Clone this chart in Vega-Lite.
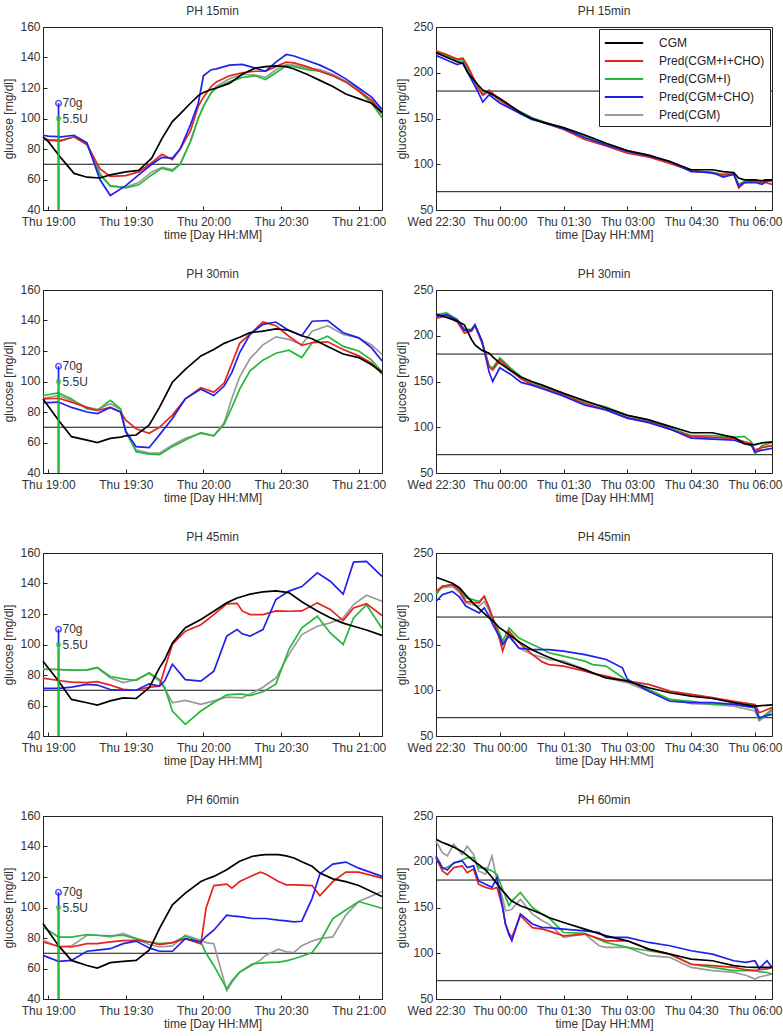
{
"$schema": "https://vega.github.io/schema/vega-lite/v6.json",
"padding": {"left": 2, "top": 4, "right": 2, "bottom": 2},
"config": {
  "font": "Liberation Sans",
  "view": {"stroke": "#222", "strokeWidth": 1},
  "axis": {"grid": false, "labelFontSize": 12, "titleFontSize": 12, "titleFontWeight": "normal", "labelColor": "#333", "titleColor": "#333", "domainColor": "#222", "tickColor": "#222", "tickSize": -4, "labelPadding": 7, "labelFlush": false, "labelOverlap": false, "labelBound": false, "titlePadding": 4, "labelSeparation": 0},
  "axisX": {"labelPadding": 10, "titlePadding": 2},
  "axisY": {"labelOverlap": false, "labelOffset": -1},
  "axisQuantitative": {"labelOverlap": false},
  "title": {"fontSize": 12, "fontWeight": "normal", "color": "#333", "offset": 2},
  "concat": {"spacing": 8}
},
"spacing": 26,
"resolve": {"legend": {"color": "independent"}, "scale": {"color": "independent"}},
"datasets": {
"L15": [
{"t":"2015-01-01 18:58","C":88,"R":87,"G":86.5,"B":89,"Y":87},
{"t":"2015-01-01 19:00","C":85,"R":86,"G":85.5,"B":88.5,"Y":86},
{"t":"2015-01-01 19:05","C":74,"R":85.5,"G":85.5,"B":88,"Y":85.5},
{"t":"2015-01-01 19:10","C":64,"R":88,"G":88,"B":89,"Y":88},
{"t":"2015-01-01 19:15","C":61.5,"R":83,"G":83,"B":84,"Y":83},
{"t":"2015-01-01 19:20","C":61,"R":67,"G":63,"B":60,"Y":64},
{"t":"2015-01-01 19:24","C":63,"R":62,"G":56,"B":49.5,"Y":55.5},
{"t":"2015-01-01 19:30","C":65,"R":62.5,"G":54.5,"B":56,"Y":55},
{"t":"2015-01-01 19:35","C":66,"R":65,"G":56.5,"B":63,"Y":58},
{"t":"2015-01-01 19:40","C":74,"R":71,"G":63,"B":70,"Y":65},
{"t":"2015-01-01 19:44","C":87,"R":76.5,"G":67.5,"B":74.5,"Y":68},
{"t":"2015-01-01 19:48","C":98,"R":73,"G":65.5,"B":74,"Y":66.5},
{"t":"2015-01-01 19:51","C":103,"R":80,"G":70,"B":80,"Y":70},
{"t":"2015-01-01 19:55","C":110,"R":92,"G":85,"B":96,"Y":85},
{"t":"2015-01-01 19:58","C":115,"R":108,"G":100,"B":110,"Y":100},
{"t":"2015-01-01 20:00","C":117,"R":114,"G":108,"B":128,"Y":108},
{"t":"2015-01-01 20:03","C":119,"R":121,"G":117,"B":132,"Y":117},
{"t":"2015-01-01 20:05","C":120,"R":124,"G":120,"B":132.5,"Y":121},
{"t":"2015-01-01 20:10","C":123,"R":128,"G":124,"B":135,"Y":126},
{"t":"2015-01-01 20:15","C":129,"R":130,"G":127,"B":135.5,"Y":129},
{"t":"2015-01-01 20:20","C":133,"R":131,"G":128,"B":133,"Y":128.5},
{"t":"2015-01-01 20:24","C":134,"R":131,"G":125.6,"B":131,"Y":127},
{"t":"2015-01-01 20:28","C":134.5,"R":134,"G":130,"B":137,"Y":132},
{"t":"2015-01-01 20:32","C":134,"R":137,"G":134.5,"B":142,"Y":135.5},
{"t":"2015-01-01 20:35","C":132.5,"R":136.5,"G":134,"B":141,"Y":135},
{"t":"2015-01-01 20:40","C":129,"R":134,"G":132,"B":138,"Y":133},
{"t":"2015-01-01 20:45","C":125,"R":131,"G":131,"B":135,"Y":132},
{"t":"2015-01-01 20:50","C":121,"R":128,"G":128,"B":131,"Y":129},
{"t":"2015-01-01 20:55","C":116,"R":124,"G":124,"B":126,"Y":124.5},
{"t":"2015-01-01 21:00","C":113,"R":118,"G":118,"B":120,"Y":119},
{"t":"2015-01-01 21:05","C":110,"R":112,"G":110,"B":114,"Y":111},
{"t":"2015-01-01 21:09","C":104,"R":104,"G":100.5,"B":106,"Y":102.5}
],
"L30": [
{"t":"2015-01-01 18:58","C":88.6,"R":88.6,"G":90.8,"B":86,"Y":89},
{"t":"2015-01-01 19:04","C":74.6,"R":89,"G":92.5,"B":86.5,"Y":90.8},
{"t":"2015-01-01 19:09","C":63.8,"R":86.5,"G":88.6,"B":83,"Y":87.6},
{"t":"2015-01-01 19:15","C":61.6,"R":83,"G":82,"B":80,"Y":83},
{"t":"2015-01-01 19:19","C":60,"R":81,"G":81,"B":79,"Y":81.7},
{"t":"2015-01-01 19:24","C":62.7,"R":83,"G":87.6,"B":83,"Y":85.4},
{"t":"2015-01-01 19:28","C":63.5,"R":80,"G":82,"B":80,"Y":81.7},
{"t":"2015-01-01 19:30","C":64.4,"R":74.6,"G":67,"B":67,"Y":68},
{"t":"2015-01-01 19:34","C":64.9,"R":69,"G":54,"B":57.3,"Y":55},
{"t":"2015-01-01 19:39","C":71.4,"R":66,"G":52.4,"B":56.6,"Y":53},
{"t":"2015-01-01 19:43","C":83,"R":70,"G":52,"B":65,"Y":53},
{"t":"2015-01-01 19:48","C":99.5,"R":78,"G":57.3,"B":75.7,"Y":58.4},
{"t":"2015-01-01 19:53","C":108,"R":88.6,"G":61.6,"B":88.6,"Y":62.7},
{"t":"2015-01-01 19:59","C":116.8,"R":96,"G":66.5,"B":95,"Y":66},
{"t":"2015-01-01 20:04","C":121,"R":93,"G":64.4,"B":90.8,"Y":64.4},
{"t":"2015-01-01 20:08","C":125,"R":99,"G":72,"B":97,"Y":73},
{"t":"2015-01-01 20:11","C":127,"R":112,"G":83,"B":106,"Y":89},
{"t":"2015-01-01 20:14","C":129,"R":125,"G":95,"B":119,"Y":103},
{"t":"2015-01-01 20:18","C":132,"R":131,"G":107,"B":131,"Y":115},
{"t":"2015-01-01 20:23","C":133,"R":139,"G":114,"B":137.5,"Y":124},
{"t":"2015-01-01 20:28","C":134.5,"R":136.6,"G":118.5,"B":139,"Y":129.3},
{"t":"2015-01-01 20:33","C":133.6,"R":129.7,"G":120.5,"B":133.5,"Y":127.6},
{"t":"2015-01-01 20:38","C":130,"R":123.7,"G":115.7,"B":130,"Y":124.3},
{"t":"2015-01-01 20:42","C":128,"R":125.4,"G":125.4,"B":139.5,"Y":133},
{"t":"2015-01-01 20:48","C":123,"R":126,"G":129.7,"B":140,"Y":136.6},
{"t":"2015-01-01 20:54","C":118,"R":121,"G":123,"B":132,"Y":130.8},
{"t":"2015-01-01 21:00","C":115.7,"R":116.8,"G":120,"B":128.6,"Y":128.6},
{"t":"2015-01-01 21:05","C":111,"R":112,"G":114,"B":122,"Y":124},
{"t":"2015-01-01 21:09","C":106,"R":105,"G":106.4,"B":113.5,"Y":117.8}
],
"L45": [
{"t":"2015-01-01 18:58","C":89,"R":78,"G":83.6,"B":71.2,"Y":84},
{"t":"2015-01-01 19:04","C":76,"R":76.4,"G":83.6,"B":71.2,"Y":83.6},
{"t":"2015-01-01 19:09","C":64,"R":75.3,"G":83.2,"B":72,"Y":83},
{"t":"2015-01-01 19:15","C":61.8,"R":75,"G":83.4,"B":73.8,"Y":83.2},
{"t":"2015-01-01 19:19","C":60.3,"R":75.6,"G":85,"B":73.4,"Y":84.7},
{"t":"2015-01-01 19:24","C":63,"R":73.4,"G":79,"B":70.5,"Y":78},
{"t":"2015-01-01 19:29","C":65,"R":70.6,"G":77.5,"B":70,"Y":75},
{"t":"2015-01-01 19:34","C":64.6,"R":70,"G":76.4,"B":70,"Y":77},
{"t":"2015-01-01 19:39","C":71.6,"R":72,"G":81.5,"B":74.2,"Y":81},
{"t":"2015-01-01 19:43","C":84.7,"R":72.7,"G":77,"B":72.7,"Y":76},
{"t":"2015-01-01 19:45","C":90,"R":84,"G":72,"B":76,"Y":71},
{"t":"2015-01-01 19:48","C":101,"R":100,"G":56.4,"B":87,"Y":61.8},
{"t":"2015-01-01 19:53","C":111,"R":108.7,"G":47.6,"B":77,"Y":63.3},
{"t":"2015-01-01 19:59","C":116.4,"R":113,"G":56.4,"B":76,"Y":60.7},
{"t":"2015-01-01 20:04","C":121.8,"R":119.6,"G":62,"B":82.5,"Y":63},
{"t":"2015-01-01 20:09","C":127.3,"R":126.6,"G":67,"B":105.5,"Y":65.5},
{"t":"2015-01-01 20:13","C":130.5,"R":127,"G":67.5,"B":109.8,"Y":65.2},
{"t":"2015-01-01 20:15","C":131.5,"R":122,"G":67.5,"B":107,"Y":65},
{"t":"2015-01-01 20:18","C":133,"R":119.6,"G":66.5,"B":105.5,"Y":67.5},
{"t":"2015-01-01 20:23","C":134.5,"R":119.6,"G":69,"B":109.8,"Y":72},
{"t":"2015-01-01 20:28","C":135.2,"R":122,"G":74,"B":129.5,"Y":78},
{"t":"2015-01-01 20:33","C":134,"R":121.8,"G":96.7,"B":135,"Y":93.4},
{"t":"2015-01-01 20:38","C":128,"R":122,"G":111,"B":138,"Y":106.5},
{"t":"2015-01-01 20:44","C":122,"R":127.3,"G":118.5,"B":147,"Y":112},
{"t":"2015-01-01 20:49","C":117.5,"R":123,"G":107.6,"B":141.5,"Y":114.2},
{"t":"2015-01-01 20:54","C":114,"R":115.7,"G":100,"B":133,"Y":117.4},
{"t":"2015-01-01 20:58","C":112,"R":124,"G":117.4,"B":154,"Y":126.2},
{"t":"2015-01-01 21:03","C":109.5,"R":126.8,"G":126,"B":154.5,"Y":132.3},
{"t":"2015-01-01 21:09","C":106,"R":119,"G":110.5,"B":144.7,"Y":128.4}
],
"L60": [
{"t":"2015-01-01 18:58","C":89.5,"R":77.4,"G":87.3,"B":68.6,"Y":78.5},
{"t":"2015-01-01 19:04","C":75,"R":74.6,"G":80.6,"B":64.7,"Y":74.1},
{"t":"2015-01-01 19:09","C":65.3,"R":74.1,"G":80.6,"B":65.3,"Y":74.8},
{"t":"2015-01-01 19:15","C":62,"R":76.3,"G":82.3,"B":71.3,"Y":81.8},
{"t":"2015-01-01 19:19","C":60.3,"R":76.3,"G":81.8,"B":72,"Y":81.8},
{"t":"2015-01-01 19:24","C":63.8,"R":77.4,"G":81.4,"B":73,"Y":80.7},
{"t":"2015-01-01 19:29","C":64.7,"R":78.3,"G":81.8,"B":76.3,"Y":83},
{"t":"2015-01-01 19:34","C":65.3,"R":78.5,"G":79.6,"B":78,"Y":79.6},
{"t":"2015-01-01 19:39","C":72,"R":77.4,"G":77.4,"B":73.5,"Y":75.7},
{"t":"2015-01-01 19:43","C":86.2,"R":75.7,"G":76.3,"B":71.3,"Y":74.1},
{"t":"2015-01-01 19:48","C":101.7,"R":77,"G":76.8,"B":71.3,"Y":74.8},
{"t":"2015-01-01 19:53","C":109.4,"R":79.6,"G":81.2,"B":79.6,"Y":81.8},
{"t":"2015-01-01 19:59","C":117,"R":76.1,"G":77.4,"B":77.4,"Y":78.5},
{"t":"2015-01-01 20:01","C":118.5,"R":99.5,"G":70,"B":81,"Y":77},
{"t":"2015-01-01 20:04","C":120.4,"R":114.4,"G":62,"B":85.1,"Y":76.3},
{"t":"2015-01-01 20:09","C":124.8,"R":115.3,"G":46.6,"B":95,"Y":45.5},
{"t":"2015-01-01 20:11","C":127,"R":112.7,"G":52,"B":94.5,"Y":51},
{"t":"2015-01-01 20:14","C":130.3,"R":117,"G":57.6,"B":94,"Y":57.6},
{"t":"2015-01-01 20:19","C":133.6,"R":121,"G":63.1,"B":92.8,"Y":62.5},
{"t":"2015-01-01 20:22","C":134.3,"R":123.2,"G":63.5,"B":92.8,"Y":65.5},
{"t":"2015-01-01 20:24","C":134.7,"R":122,"G":63.8,"B":92.8,"Y":68.6},
{"t":"2015-01-01 20:29","C":134.7,"R":117,"G":64.2,"B":91.7,"Y":72.6},
{"t":"2015-01-01 20:32","C":133.8,"R":114.9,"G":65,"B":91.2,"Y":71},
{"t":"2015-01-01 20:35","C":132.5,"R":114.9,"G":66.4,"B":90.6,"Y":70.5},
{"t":"2015-01-01 20:38","C":130,"R":114.7,"G":68,"B":91,"Y":75},
{"t":"2015-01-01 20:42","C":127,"R":114.4,"G":70.5,"B":106,"Y":78},
{"t":"2015-01-01 20:45","C":122.6,"R":107.8,"G":77.4,"B":122,"Y":79.6},
{"t":"2015-01-01 20:50","C":118.8,"R":117,"G":92.8,"B":128.5,"Y":80.7},
{"t":"2015-01-01 20:55","C":117,"R":123.2,"G":98.4,"B":129.8,"Y":95},
{"t":"2015-01-01 21:00","C":114.4,"R":123.2,"G":103.9,"B":125.8,"Y":103.9},
{"t":"2015-01-01 21:09","C":107.2,"R":119.3,"G":99.5,"B":120.4,"Y":110.5}
],
"R15": [
{"t":"2014-12-31 22:30","C":222,"R":224,"G":223,"B":219,"Y":222},
{"t":"2014-12-31 22:45","C":217,"R":220,"G":219,"B":214,"Y":218},
{"t":"2014-12-31 23:00","C":212,"R":215,"G":214,"B":209,"Y":212},
{"t":"2014-12-31 23:08","C":210,"R":216,"G":214,"B":211,"Y":213},
{"t":"2014-12-31 23:15","C":200,"R":207,"G":205,"B":200,"Y":203},
{"t":"2014-12-31 23:30","C":186,"R":183,"G":183,"B":178,"Y":182},
{"t":"2014-12-31 23:36","C":181,"R":176,"G":177,"B":168,"Y":175},
{"t":"2014-12-31 23:45","C":178,"R":181,"G":180,"B":176,"Y":179},
{"t":"2015-01-01 00:00","C":172,"R":170,"G":171,"B":167,"Y":170},
{"t":"2015-01-01 00:15","C":164,"R":163,"G":163,"B":161,"Y":162},
{"t":"2015-01-01 00:30","C":156,"R":156,"G":157,"B":155,"Y":155},
{"t":"2015-01-01 00:45","C":150,"R":150,"G":151,"B":149,"Y":150},
{"t":"2015-01-01 01:00","C":146,"R":146,"G":147,"B":146,"Y":146},
{"t":"2015-01-01 01:30","C":140,"R":138,"G":139,"B":139,"Y":139},
{"t":"2015-01-01 02:00","C":132,"R":127,"G":131,"B":129,"Y":130},
{"t":"2015-01-01 02:30","C":123,"R":120,"G":122,"B":121,"Y":122},
{"t":"2015-01-01 03:00","C":115,"R":112,"G":114,"B":114,"Y":114},
{"t":"2015-01-01 03:30","C":110,"R":108,"G":108,"B":109,"Y":108.5},
{"t":"2015-01-01 04:00","C":103,"R":101,"G":102,"B":103,"Y":102},
{"t":"2015-01-01 04:30","C":94,"R":93,"G":93,"B":92,"Y":93},
{"t":"2015-01-01 05:00","C":94,"R":90,"G":91,"B":91,"Y":91},
{"t":"2015-01-01 05:15","C":92,"R":88,"G":89,"B":86,"Y":89},
{"t":"2015-01-01 05:30","C":91,"R":90,"G":90,"B":89,"Y":90},
{"t":"2015-01-01 05:37","C":85,"R":74,"G":78,"B":76,"Y":78},
{"t":"2015-01-01 05:45","C":83,"R":80,"G":81,"B":80,"Y":81},
{"t":"2015-01-01 06:00","C":83,"R":82,"G":82,"B":80,"Y":82},
{"t":"2015-01-01 06:10","C":82,"R":80,"G":80,"B":78,"Y":80},
{"t":"2015-01-01 06:15","C":83,"R":80,"G":82,"B":81,"Y":82},
{"t":"2015-01-01 06:24","C":83,"R":78,"G":82,"B":83,"Y":81}
],
"R30": [
{"t":"2014-12-31 22:30","C":223.5,"R":219,"G":223,"B":221,"Y":222},
{"t":"2014-12-31 22:45","C":220,"R":222,"G":225,"B":223,"Y":224},
{"t":"2014-12-31 23:00","C":216,"R":215,"G":218,"B":217,"Y":217},
{"t":"2014-12-31 23:10","C":212,"R":203,"G":207,"B":206,"Y":205},
{"t":"2014-12-31 23:20","C":196,"R":205,"G":207,"B":206,"Y":206},
{"t":"2014-12-31 23:25","C":190,"R":211,"G":212,"B":212,"Y":211},
{"t":"2014-12-31 23:35","C":184,"R":192,"G":194,"B":194,"Y":193},
{"t":"2014-12-31 23:45","C":181,"R":166,"G":167,"B":160,"Y":166},
{"t":"2014-12-31 23:50","C":177,"R":163,"G":165,"B":150,"Y":162},
{"t":"2015-01-01 00:00","C":170,"R":174,"G":176,"B":165,"Y":172},
{"t":"2015-01-01 00:15","C":162,"R":163,"G":165,"B":158,"Y":162},
{"t":"2015-01-01 00:30","C":155,"R":153,"G":155,"B":149,"Y":153},
{"t":"2015-01-01 00:45","C":150,"R":147,"G":149,"B":146,"Y":147},
{"t":"2015-01-01 01:00","C":146,"R":143,"G":145,"B":142,"Y":143},
{"t":"2015-01-01 01:30","C":137,"R":135,"G":137,"B":134,"Y":135},
{"t":"2015-01-01 02:00","C":129,"R":126,"G":128,"B":124,"Y":126},
{"t":"2015-01-01 02:30","C":121,"R":119,"G":122,"B":119,"Y":119},
{"t":"2015-01-01 03:00","C":113,"R":110,"G":113,"B":110,"Y":111},
{"t":"2015-01-01 03:30","C":108,"R":106,"G":108,"B":105,"Y":106},
{"t":"2015-01-01 04:00","C":101,"R":98,"G":99,"B":98,"Y":98},
{"t":"2015-01-01 04:30","C":94,"R":90,"G":91,"B":88,"Y":89},
{"t":"2015-01-01 05:00","C":94,"R":89,"G":91,"B":87,"Y":89},
{"t":"2015-01-01 05:30","C":89,"R":88,"G":89,"B":86,"Y":88},
{"t":"2015-01-01 05:45","C":82,"R":84,"G":90,"B":82,"Y":84},
{"t":"2015-01-01 05:55","C":81,"R":82,"G":84,"B":80,"Y":82},
{"t":"2015-01-01 06:00","C":81,"R":75,"G":71,"B":73,"Y":72},
{"t":"2015-01-01 06:10","C":83,"R":78,"G":80,"B":75,"Y":78},
{"t":"2015-01-01 06:24","C":84,"R":80,"G":83,"B":77,"Y":80}
],
"R45": [
{"t":"2014-12-31 22:30","C":223.5,"R":208,"G":204.5,"B":197,"Y":208},
{"t":"2014-12-31 22:39","C":221,"R":213.6,"G":213.6,"B":204.5,"Y":212},
{"t":"2014-12-31 22:53","C":217,"R":215.5,"G":215.5,"B":208,"Y":213.6},
{"t":"2014-12-31 23:03","C":212,"R":209,"G":210,"B":202,"Y":207},
{"t":"2014-12-31 23:12","C":204,"R":197,"G":201,"B":192,"Y":195.5},
{"t":"2014-12-31 23:22","C":195.5,"R":196,"G":199,"B":188,"Y":193.5},
{"t":"2014-12-31 23:31","C":189,"R":195.5,"G":197,"B":184.5,"Y":192},
{"t":"2014-12-31 23:38","C":184,"R":202.7,"G":202.7,"B":190,"Y":197},
{"t":"2014-12-31 23:45","C":179,"R":190,"G":190,"B":181,"Y":187},
{"t":"2014-12-31 23:50","C":176,"R":179,"G":179,"B":172,"Y":177},
{"t":"2015-01-01 00:00","C":168,"R":155,"G":162,"B":158,"Y":160},
{"t":"2015-01-01 00:04","C":166,"R":142.7,"G":153.6,"B":150,"Y":152},
{"t":"2015-01-01 00:13","C":161,"R":164.5,"G":168,"B":159,"Y":161},
{"t":"2015-01-01 00:27","C":153,"R":152,"G":157,"B":146,"Y":146},
{"t":"2015-01-01 00:46","C":144,"R":139,"G":150,"B":144.5,"Y":139},
{"t":"2015-01-01 01:00","C":139,"R":131,"G":145,"B":144.5,"Y":136},
{"t":"2015-01-01 01:09","C":136,"R":128,"G":141,"B":144.5,"Y":133.6},
{"t":"2015-01-01 01:30","C":130,"R":126.4,"G":137.3,"B":142.7,"Y":131.8},
{"t":"2015-01-01 02:00","C":122.5,"R":120.9,"G":131.8,"B":139,"Y":122.5},
{"t":"2015-01-01 02:11","C":119,"R":118.5,"G":128,"B":137,"Y":119},
{"t":"2015-01-01 02:30","C":113.6,"R":115.5,"G":126.4,"B":133.6,"Y":113.6},
{"t":"2015-01-01 02:53","C":111,"R":111,"G":114,"B":124.5,"Y":109.5},
{"t":"2015-01-01 03:00","C":110,"R":110,"G":110,"B":112,"Y":108.2},
{"t":"2015-01-01 03:30","C":102.7,"R":106.4,"G":101,"B":99,"Y":99},
{"t":"2015-01-01 04:00","C":97.3,"R":99,"G":90,"B":88,"Y":90},
{"t":"2015-01-01 04:30","C":93.6,"R":95.5,"G":88,"B":86.4,"Y":85.3},
{"t":"2015-01-01 05:00","C":91,"R":92,"G":84.5,"B":86.4,"Y":84.5},
{"t":"2015-01-01 05:30","C":86.4,"R":88,"G":84.5,"B":84.5,"Y":82.7},
{"t":"2015-01-01 06:00","C":82.7,"R":84.5,"G":81,"B":81,"Y":77.3},
{"t":"2015-01-01 06:06","C":83,"R":75.5,"G":68,"B":70,"Y":66.4},
{"t":"2015-01-01 06:24","C":84,"R":81,"G":79,"B":73.6,"Y":77.3}
],
"R60": [
{"t":"2014-12-31 22:30","C":224.5,"R":204.5,"G":204.5,"B":206,"Y":222.7},
{"t":"2014-12-31 22:39","C":221,"R":190,"G":192,"B":193.6,"Y":210},
{"t":"2014-12-31 22:46","C":219,"R":186,"G":194,"B":191,"Y":206.4},
{"t":"2014-12-31 22:55","C":216,"R":193.6,"G":198,"B":199,"Y":219},
{"t":"2014-12-31 23:07","C":211,"R":195.5,"G":202,"B":201,"Y":208},
{"t":"2014-12-31 23:14","C":207,"R":188,"G":204.5,"B":193.6,"Y":217},
{"t":"2014-12-31 23:23","C":201,"R":192,"G":204.5,"B":195.5,"Y":208},
{"t":"2014-12-31 23:30","C":197,"R":175.5,"G":193.6,"B":179,"Y":190},
{"t":"2014-12-31 23:40","C":191,"R":172,"G":193,"B":175.5,"Y":186.4},
{"t":"2014-12-31 23:49","C":183,"R":170,"G":190,"B":172,"Y":206.4},
{"t":"2014-12-31 23:56","C":176,"R":172,"G":186.4,"B":182.7,"Y":179},
{"t":"2015-01-01 00:04","C":168,"R":150,"G":170,"B":150,"Y":160},
{"t":"2015-01-01 00:08","C":165,"R":132,"G":162,"B":132,"Y":146.4},
{"t":"2015-01-01 00:13","C":160,"R":122,"G":152,"B":120,"Y":147},
{"t":"2015-01-01 00:17","C":157,"R":117.3,"G":157,"B":113.6,"Y":148},
{"t":"2015-01-01 00:29","C":152,"R":141,"G":166.4,"B":143,"Y":159},
{"t":"2015-01-01 00:46","C":147,"R":128,"G":150,"B":132,"Y":142.7},
{"t":"2015-01-01 01:00","C":142.7,"R":126.4,"G":142.7,"B":128,"Y":135.5},
{"t":"2015-01-01 01:09","C":139,"R":124.5,"G":139,"B":128,"Y":132},
{"t":"2015-01-01 01:30","C":133.6,"R":119,"G":122.7,"B":126.4,"Y":117.3},
{"t":"2015-01-01 02:00","C":126.4,"R":121,"G":121.8,"B":124.5,"Y":121},
{"t":"2015-01-01 02:20","C":121.5,"R":116,"G":115,"B":122.7,"Y":108.2},
{"t":"2015-01-01 02:30","C":119,"R":113.6,"G":111.8,"B":117.3,"Y":106.4},
{"t":"2015-01-01 03:00","C":113.6,"R":113.6,"G":106.4,"B":117.3,"Y":106.4},
{"t":"2015-01-01 03:30","C":104.5,"R":104.5,"G":102.7,"B":111.8,"Y":97.3},
{"t":"2015-01-01 04:00","C":99,"R":99,"G":99,"B":108.2,"Y":95.5},
{"t":"2015-01-01 04:30","C":93.6,"R":88,"G":88,"B":102.7,"Y":84.5},
{"t":"2015-01-01 05:00","C":91.8,"R":86.4,"G":84.5,"B":99,"Y":81},
{"t":"2015-01-01 05:30","C":86.4,"R":84.5,"G":81,"B":91.8,"Y":79},
{"t":"2015-01-01 05:47","C":85,"R":82,"G":81,"B":90,"Y":76},
{"t":"2015-01-01 06:00","C":84.5,"R":81,"G":81,"B":91.8,"Y":71.8},
{"t":"2015-01-01 06:06","C":84.5,"R":82,"G":80,"B":83.3,"Y":74},
{"t":"2015-01-01 06:17","C":84.5,"R":83,"G":79,"B":91.8,"Y":76},
{"t":"2015-01-01 06:24","C":84.5,"R":84.5,"G":77.3,"B":84.5,"Y":77.3}
]
},
"vconcat": [
{"resolve": {"legend": {"color": "independent"}, "scale": {"color": "independent"}}, "hconcat": [
 {"title": "PH 15min", "width": 339, "height": 183, "layer": [
  {"data": {"values": [{"v": 70}]}, "mark": {"type": "rule", "color": "#111", "strokeWidth": 1}, "encoding": {"y": {"field": "v", "type": "quantitative", "scale": {"domain": [40, 160], "nice": false, "zero": false}, "axis": {"values": [40, 60, 80, 100, 120, 140, 160], "tickCount": 7, "labelOverlap": false, "title": "glucose [mg/dl]"}}}},
  {"data": {"name": "L15"}, "transform": [{"fold": ["Y", "G", "R", "B", "C"], "as": ["s", "v"]}], "mark": {"type": "line", "strokeWidth": 1.7}, "encoding": {
    "x": {"field": "t", "type": "temporal", "scale": {"domain": [{"year":2015,"month":1,"date":1,"hours":18,"minutes":58},{"year":2015,"month":1,"date":1,"hours":21,"minutes":9}]}, "axis": {"values": [{"year":2015,"month":1,"date":1,"hours":19},{"year":2015,"month":1,"date":1,"hours":19,"minutes":30},{"year":2015,"month":1,"date":1,"hours":20},{"year":2015,"month":1,"date":1,"hours":20,"minutes":30},{"year":2015,"month":1,"date":1,"hours":21}], "format": "%a %H:%M", "title": "time [Day HH:MM]"}},
    "y": {"field": "v", "type": "quantitative", "scale": {"domain": [40, 160], "nice": false, "zero": false}, "axis": {"values": [40, 60, 80, 100, 120, 140, 160], "tickCount": 7, "labelOverlap": false, "title": "glucose [mg/dl]"}},
    "color": {"field": "s", "type": "nominal", "scale": {"domain": ["C", "R", "G", "B", "Y"], "range": ["#000000", "#e8221e", "#26b83a", "#2020ee", "#9a9a9a"]}, "legend": null}}},
  {"data": {"values": [{"t": "2015-01-01 19:04", "lo": 40, "v": 110}]}, "mark": {"type": "rule", "color": "#2020ee", "strokeWidth": 1.7}, "encoding": {"x": {"field": "t", "type": "temporal"}, "y": {"field": "lo", "type": "quantitative"}, "y2": {"field": "v"}}},
  {"data": {"values": [{"t": "2015-01-01 19:04", "lo": 40, "v": 100}]}, "mark": {"type": "rule", "color": "#26b83a", "strokeWidth": 1.7}, "encoding": {"x": {"field": "t", "type": "temporal"}, "y": {"field": "lo", "type": "quantitative"}, "y2": {"field": "v"}}},
  {"data": {"values": [{"t": "2015-01-01 19:04", "v": 110}]}, "mark": {"type": "point", "shape": "circle", "filled": false, "color": "#2020ee", "size": 30, "strokeWidth": 1.7}, "encoding": {"x": {"field": "t", "type": "temporal"}, "y": {"field": "v", "type": "quantitative"}}},
  {"data": {"values": [{"t": "2015-01-01 19:04", "v": 100}]}, "mark": {"type": "point", "shape": "M-1,0L1,0M0,-1L0,1M-0.7,-0.7L0.7,0.7M-0.7,0.7L0.7,-0.7", "filled": false, "color": "#26b83a", "size": 30, "strokeWidth": 1.5}, "encoding": {"x": {"field": "t", "type": "temporal"}, "y": {"field": "v", "type": "quantitative"}}},
  {"data": {"values": [{"t": "2015-01-01 19:04", "v": 110, "lab": "70g"}, {"t": "2015-01-01 19:04", "v": 100, "lab": "5.5U"}]}, "mark": {"type": "text", "align": "left", "dx": 4, "fontSize": 12, "color": "#333"}, "encoding": {"x": {"field": "t", "type": "temporal"}, "y": {"field": "v", "type": "quantitative"}, "text": {"field": "lab"}}}
 ]},
 {"title": "PH 15min", "width": 336, "height": 183, "layer": [
  {"data": {"values": [{"v": 70}, {"v": 180}]}, "mark": {"type": "rule", "color": "#111", "strokeWidth": 1}, "encoding": {"y": {"field": "v", "type": "quantitative", "scale": {"domain": [50, 250], "nice": false, "zero": false}, "axis": {"values": [50, 100, 150, 200, 250], "labelOverlap": false, "title": "glucose [mg/dl]"}}}},
  {"data": {"name": "R15"}, "transform": [{"fold": ["Y", "G", "R", "B", "C"], "as": ["s", "v"]}], "mark": {"type": "line", "strokeWidth": 1.7}, "encoding": {
    "x": {"field": "t", "type": "temporal", "scale": {"domain": [{"year":2014,"month":12,"date":31,"hours":22,"minutes":30},{"year":2015,"month":1,"date":1,"hours":6,"minutes":24}]}, "axis": {"values": [{"year":2014,"month":12,"date":31,"hours":22,"minutes":30},{"year":2015,"month":1,"date":1,"hours":0},{"year":2015,"month":1,"date":1,"hours":1,"minutes":30},{"year":2015,"month":1,"date":1,"hours":3},{"year":2015,"month":1,"date":1,"hours":4,"minutes":30},{"year":2015,"month":1,"date":1,"hours":6}], "format": "%a %H:%M", "title": "time [Day HH:MM]"}},
    "y": {"field": "v", "type": "quantitative", "scale": {"domain": [50, 250], "nice": false, "zero": false}, "axis": {"values": [50, 100, 150, 200, 250], "labelOverlap": false, "title": "glucose [mg/dl]"}},
    "color": {"field": "s", "type": "nominal", "scale": {"domain": ["C", "R", "G", "B", "Y"], "range": ["#000000", "#e8221e", "#26b83a", "#2020ee", "#9a9a9a"]}, "legend": {"orient": "top-right", "offset": 2, "title": null, "strokeColor": "#222", "fillColor": "white", "padding": 5, "symbolType": "M-2.4,0L2.4,0", "symbolSize": 256, "symbolStrokeWidth": 2, "symbolOffset": 11, "labelFontSize": 12, "labelColor": "#222", "labelOffset": 26, "rowPadding": 3, "labelExpr": "{'C':'CGM','R':'Pred(CGM+I+CHO)','G':'Pred(CGM+I)','B':'Pred(CGM+CHO)','Y':'Pred(CGM)'}[datum.label]"}}}}
 ]}
]},
{"resolve": {"legend": {"color": "independent"}, "scale": {"color": "independent"}}, "hconcat": [
 {"title": "PH 30min", "width": 339, "height": 183, "layer": [
  {"data": {"values": [{"v": 70}]}, "mark": {"type": "rule", "color": "#111", "strokeWidth": 1}, "encoding": {"y": {"field": "v", "type": "quantitative", "scale": {"domain": [40, 160], "nice": false, "zero": false}, "axis": {"values": [40, 60, 80, 100, 120, 140, 160], "tickCount": 7, "labelOverlap": false, "title": "glucose [mg/dl]"}}}},
  {"data": {"name": "L30"}, "transform": [{"fold": ["Y", "G", "R", "B", "C"], "as": ["s", "v"]}], "mark": {"type": "line", "strokeWidth": 1.7}, "encoding": {
    "x": {"field": "t", "type": "temporal", "scale": {"domain": [{"year":2015,"month":1,"date":1,"hours":18,"minutes":58},{"year":2015,"month":1,"date":1,"hours":21,"minutes":9}]}, "axis": {"values": [{"year":2015,"month":1,"date":1,"hours":19},{"year":2015,"month":1,"date":1,"hours":19,"minutes":30},{"year":2015,"month":1,"date":1,"hours":20},{"year":2015,"month":1,"date":1,"hours":20,"minutes":30},{"year":2015,"month":1,"date":1,"hours":21}], "format": "%a %H:%M", "title": "time [Day HH:MM]"}},
    "y": {"field": "v", "type": "quantitative", "scale": {"domain": [40, 160], "nice": false, "zero": false}, "axis": {"values": [40, 60, 80, 100, 120, 140, 160], "tickCount": 7, "labelOverlap": false, "title": "glucose [mg/dl]"}},
    "color": {"field": "s", "type": "nominal", "scale": {"domain": ["C", "R", "G", "B", "Y"], "range": ["#000000", "#e8221e", "#26b83a", "#2020ee", "#9a9a9a"]}, "legend": null}}},
  {"data": {"values": [{"t": "2015-01-01 19:04", "lo": 40, "v": 110}]}, "mark": {"type": "rule", "color": "#2020ee", "strokeWidth": 1.7}, "encoding": {"x": {"field": "t", "type": "temporal"}, "y": {"field": "lo", "type": "quantitative"}, "y2": {"field": "v"}}},
  {"data": {"values": [{"t": "2015-01-01 19:04", "lo": 40, "v": 100}]}, "mark": {"type": "rule", "color": "#26b83a", "strokeWidth": 1.7}, "encoding": {"x": {"field": "t", "type": "temporal"}, "y": {"field": "lo", "type": "quantitative"}, "y2": {"field": "v"}}},
  {"data": {"values": [{"t": "2015-01-01 19:04", "v": 110}]}, "mark": {"type": "point", "shape": "circle", "filled": false, "color": "#2020ee", "size": 30, "strokeWidth": 1.7}, "encoding": {"x": {"field": "t", "type": "temporal"}, "y": {"field": "v", "type": "quantitative"}}},
  {"data": {"values": [{"t": "2015-01-01 19:04", "v": 100}]}, "mark": {"type": "point", "shape": "M-1,0L1,0M0,-1L0,1M-0.7,-0.7L0.7,0.7M-0.7,0.7L0.7,-0.7", "filled": false, "color": "#26b83a", "size": 30, "strokeWidth": 1.5}, "encoding": {"x": {"field": "t", "type": "temporal"}, "y": {"field": "v", "type": "quantitative"}}},
  {"data": {"values": [{"t": "2015-01-01 19:04", "v": 110, "lab": "70g"}, {"t": "2015-01-01 19:04", "v": 100, "lab": "5.5U"}]}, "mark": {"type": "text", "align": "left", "dx": 4, "fontSize": 12, "color": "#333"}, "encoding": {"x": {"field": "t", "type": "temporal"}, "y": {"field": "v", "type": "quantitative"}, "text": {"field": "lab"}}}
 ]},
 {"title": "PH 30min", "width": 336, "height": 183, "layer": [
  {"data": {"values": [{"v": 70}, {"v": 180}]}, "mark": {"type": "rule", "color": "#111", "strokeWidth": 1}, "encoding": {"y": {"field": "v", "type": "quantitative", "scale": {"domain": [50, 250], "nice": false, "zero": false}, "axis": {"values": [50, 100, 150, 200, 250], "labelOverlap": false, "title": "glucose [mg/dl]"}}}},
  {"data": {"name": "R30"}, "transform": [{"fold": ["Y", "G", "R", "B", "C"], "as": ["s", "v"]}], "mark": {"type": "line", "strokeWidth": 1.7}, "encoding": {
    "x": {"field": "t", "type": "temporal", "scale": {"domain": [{"year":2014,"month":12,"date":31,"hours":22,"minutes":30},{"year":2015,"month":1,"date":1,"hours":6,"minutes":24}]}, "axis": {"values": [{"year":2014,"month":12,"date":31,"hours":22,"minutes":30},{"year":2015,"month":1,"date":1,"hours":0},{"year":2015,"month":1,"date":1,"hours":1,"minutes":30},{"year":2015,"month":1,"date":1,"hours":3},{"year":2015,"month":1,"date":1,"hours":4,"minutes":30},{"year":2015,"month":1,"date":1,"hours":6}], "format": "%a %H:%M", "title": "time [Day HH:MM]"}},
    "y": {"field": "v", "type": "quantitative", "scale": {"domain": [50, 250], "nice": false, "zero": false}, "axis": {"values": [50, 100, 150, 200, 250], "labelOverlap": false, "title": "glucose [mg/dl]"}},
    "color": {"field": "s", "type": "nominal", "scale": {"domain": ["C", "R", "G", "B", "Y"], "range": ["#000000", "#e8221e", "#26b83a", "#2020ee", "#9a9a9a"]}, "legend": null}}}
 ]}
]},
{"resolve": {"legend": {"color": "independent"}, "scale": {"color": "independent"}}, "hconcat": [
 {"title": "PH 45min", "width": 339, "height": 183, "layer": [
  {"data": {"values": [{"v": 70}]}, "mark": {"type": "rule", "color": "#111", "strokeWidth": 1}, "encoding": {"y": {"field": "v", "type": "quantitative", "scale": {"domain": [40, 160], "nice": false, "zero": false}, "axis": {"values": [40, 60, 80, 100, 120, 140, 160], "tickCount": 7, "labelOverlap": false, "title": "glucose [mg/dl]"}}}},
  {"data": {"name": "L45"}, "transform": [{"fold": ["Y", "G", "R", "B", "C"], "as": ["s", "v"]}], "mark": {"type": "line", "strokeWidth": 1.7}, "encoding": {
    "x": {"field": "t", "type": "temporal", "scale": {"domain": [{"year":2015,"month":1,"date":1,"hours":18,"minutes":58},{"year":2015,"month":1,"date":1,"hours":21,"minutes":9}]}, "axis": {"values": [{"year":2015,"month":1,"date":1,"hours":19},{"year":2015,"month":1,"date":1,"hours":19,"minutes":30},{"year":2015,"month":1,"date":1,"hours":20},{"year":2015,"month":1,"date":1,"hours":20,"minutes":30},{"year":2015,"month":1,"date":1,"hours":21}], "format": "%a %H:%M", "title": "time [Day HH:MM]"}},
    "y": {"field": "v", "type": "quantitative", "scale": {"domain": [40, 160], "nice": false, "zero": false}, "axis": {"values": [40, 60, 80, 100, 120, 140, 160], "tickCount": 7, "labelOverlap": false, "title": "glucose [mg/dl]"}},
    "color": {"field": "s", "type": "nominal", "scale": {"domain": ["C", "R", "G", "B", "Y"], "range": ["#000000", "#e8221e", "#26b83a", "#2020ee", "#9a9a9a"]}, "legend": null}}},
  {"data": {"values": [{"t": "2015-01-01 19:04", "lo": 40, "v": 110}]}, "mark": {"type": "rule", "color": "#2020ee", "strokeWidth": 1.7}, "encoding": {"x": {"field": "t", "type": "temporal"}, "y": {"field": "lo", "type": "quantitative"}, "y2": {"field": "v"}}},
  {"data": {"values": [{"t": "2015-01-01 19:04", "lo": 40, "v": 100}]}, "mark": {"type": "rule", "color": "#26b83a", "strokeWidth": 1.7}, "encoding": {"x": {"field": "t", "type": "temporal"}, "y": {"field": "lo", "type": "quantitative"}, "y2": {"field": "v"}}},
  {"data": {"values": [{"t": "2015-01-01 19:04", "v": 110}]}, "mark": {"type": "point", "shape": "circle", "filled": false, "color": "#2020ee", "size": 30, "strokeWidth": 1.7}, "encoding": {"x": {"field": "t", "type": "temporal"}, "y": {"field": "v", "type": "quantitative"}}},
  {"data": {"values": [{"t": "2015-01-01 19:04", "v": 100}]}, "mark": {"type": "point", "shape": "M-1,0L1,0M0,-1L0,1M-0.7,-0.7L0.7,0.7M-0.7,0.7L0.7,-0.7", "filled": false, "color": "#26b83a", "size": 30, "strokeWidth": 1.5}, "encoding": {"x": {"field": "t", "type": "temporal"}, "y": {"field": "v", "type": "quantitative"}}},
  {"data": {"values": [{"t": "2015-01-01 19:04", "v": 110, "lab": "70g"}, {"t": "2015-01-01 19:04", "v": 100, "lab": "5.5U"}]}, "mark": {"type": "text", "align": "left", "dx": 4, "fontSize": 12, "color": "#333"}, "encoding": {"x": {"field": "t", "type": "temporal"}, "y": {"field": "v", "type": "quantitative"}, "text": {"field": "lab"}}}
 ]},
 {"title": "PH 45min", "width": 336, "height": 183, "layer": [
  {"data": {"values": [{"v": 70}, {"v": 180}]}, "mark": {"type": "rule", "color": "#111", "strokeWidth": 1}, "encoding": {"y": {"field": "v", "type": "quantitative", "scale": {"domain": [50, 250], "nice": false, "zero": false}, "axis": {"values": [50, 100, 150, 200, 250], "labelOverlap": false, "title": "glucose [mg/dl]"}}}},
  {"data": {"name": "R45"}, "transform": [{"fold": ["Y", "G", "R", "B", "C"], "as": ["s", "v"]}], "mark": {"type": "line", "strokeWidth": 1.7}, "encoding": {
    "x": {"field": "t", "type": "temporal", "scale": {"domain": [{"year":2014,"month":12,"date":31,"hours":22,"minutes":30},{"year":2015,"month":1,"date":1,"hours":6,"minutes":24}]}, "axis": {"values": [{"year":2014,"month":12,"date":31,"hours":22,"minutes":30},{"year":2015,"month":1,"date":1,"hours":0},{"year":2015,"month":1,"date":1,"hours":1,"minutes":30},{"year":2015,"month":1,"date":1,"hours":3},{"year":2015,"month":1,"date":1,"hours":4,"minutes":30},{"year":2015,"month":1,"date":1,"hours":6}], "format": "%a %H:%M", "title": "time [Day HH:MM]"}},
    "y": {"field": "v", "type": "quantitative", "scale": {"domain": [50, 250], "nice": false, "zero": false}, "axis": {"values": [50, 100, 150, 200, 250], "labelOverlap": false, "title": "glucose [mg/dl]"}},
    "color": {"field": "s", "type": "nominal", "scale": {"domain": ["C", "R", "G", "B", "Y"], "range": ["#000000", "#e8221e", "#26b83a", "#2020ee", "#9a9a9a"]}, "legend": null}}}
 ]}
]},
{"resolve": {"legend": {"color": "independent"}, "scale": {"color": "independent"}}, "hconcat": [
 {"title": "PH 60min", "width": 339, "height": 183, "layer": [
  {"data": {"values": [{"v": 70}]}, "mark": {"type": "rule", "color": "#111", "strokeWidth": 1}, "encoding": {"y": {"field": "v", "type": "quantitative", "scale": {"domain": [40, 160], "nice": false, "zero": false}, "axis": {"values": [40, 60, 80, 100, 120, 140, 160], "tickCount": 7, "labelOverlap": false, "title": "glucose [mg/dl]"}}}},
  {"data": {"name": "L60"}, "transform": [{"fold": ["Y", "G", "R", "B", "C"], "as": ["s", "v"]}], "mark": {"type": "line", "strokeWidth": 1.7}, "encoding": {
    "x": {"field": "t", "type": "temporal", "scale": {"domain": [{"year":2015,"month":1,"date":1,"hours":18,"minutes":58},{"year":2015,"month":1,"date":1,"hours":21,"minutes":9}]}, "axis": {"values": [{"year":2015,"month":1,"date":1,"hours":19},{"year":2015,"month":1,"date":1,"hours":19,"minutes":30},{"year":2015,"month":1,"date":1,"hours":20},{"year":2015,"month":1,"date":1,"hours":20,"minutes":30},{"year":2015,"month":1,"date":1,"hours":21}], "format": "%a %H:%M", "title": "time [Day HH:MM]"}},
    "y": {"field": "v", "type": "quantitative", "scale": {"domain": [40, 160], "nice": false, "zero": false}, "axis": {"values": [40, 60, 80, 100, 120, 140, 160], "tickCount": 7, "labelOverlap": false, "title": "glucose [mg/dl]"}},
    "color": {"field": "s", "type": "nominal", "scale": {"domain": ["C", "R", "G", "B", "Y"], "range": ["#000000", "#e8221e", "#26b83a", "#2020ee", "#9a9a9a"]}, "legend": null}}},
  {"data": {"values": [{"t": "2015-01-01 19:04", "lo": 40, "v": 110}]}, "mark": {"type": "rule", "color": "#2020ee", "strokeWidth": 1.7}, "encoding": {"x": {"field": "t", "type": "temporal"}, "y": {"field": "lo", "type": "quantitative"}, "y2": {"field": "v"}}},
  {"data": {"values": [{"t": "2015-01-01 19:04", "lo": 40, "v": 100}]}, "mark": {"type": "rule", "color": "#26b83a", "strokeWidth": 1.7}, "encoding": {"x": {"field": "t", "type": "temporal"}, "y": {"field": "lo", "type": "quantitative"}, "y2": {"field": "v"}}},
  {"data": {"values": [{"t": "2015-01-01 19:04", "v": 110}]}, "mark": {"type": "point", "shape": "circle", "filled": false, "color": "#2020ee", "size": 30, "strokeWidth": 1.7}, "encoding": {"x": {"field": "t", "type": "temporal"}, "y": {"field": "v", "type": "quantitative"}}},
  {"data": {"values": [{"t": "2015-01-01 19:04", "v": 100}]}, "mark": {"type": "point", "shape": "M-1,0L1,0M0,-1L0,1M-0.7,-0.7L0.7,0.7M-0.7,0.7L0.7,-0.7", "filled": false, "color": "#26b83a", "size": 30, "strokeWidth": 1.5}, "encoding": {"x": {"field": "t", "type": "temporal"}, "y": {"field": "v", "type": "quantitative"}}},
  {"data": {"values": [{"t": "2015-01-01 19:04", "v": 110, "lab": "70g"}, {"t": "2015-01-01 19:04", "v": 100, "lab": "5.5U"}]}, "mark": {"type": "text", "align": "left", "dx": 4, "fontSize": 12, "color": "#333"}, "encoding": {"x": {"field": "t", "type": "temporal"}, "y": {"field": "v", "type": "quantitative"}, "text": {"field": "lab"}}}
 ]},
 {"title": "PH 60min", "width": 336, "height": 183, "layer": [
  {"data": {"values": [{"v": 70}, {"v": 180}]}, "mark": {"type": "rule", "color": "#111", "strokeWidth": 1}, "encoding": {"y": {"field": "v", "type": "quantitative", "scale": {"domain": [50, 250], "nice": false, "zero": false}, "axis": {"values": [50, 100, 150, 200, 250], "labelOverlap": false, "title": "glucose [mg/dl]"}}}},
  {"data": {"name": "R60"}, "transform": [{"fold": ["Y", "G", "R", "B", "C"], "as": ["s", "v"]}], "mark": {"type": "line", "strokeWidth": 1.7}, "encoding": {
    "x": {"field": "t", "type": "temporal", "scale": {"domain": [{"year":2014,"month":12,"date":31,"hours":22,"minutes":30},{"year":2015,"month":1,"date":1,"hours":6,"minutes":24}]}, "axis": {"values": [{"year":2014,"month":12,"date":31,"hours":22,"minutes":30},{"year":2015,"month":1,"date":1,"hours":0},{"year":2015,"month":1,"date":1,"hours":1,"minutes":30},{"year":2015,"month":1,"date":1,"hours":3},{"year":2015,"month":1,"date":1,"hours":4,"minutes":30},{"year":2015,"month":1,"date":1,"hours":6}], "format": "%a %H:%M", "title": "time [Day HH:MM]"}},
    "y": {"field": "v", "type": "quantitative", "scale": {"domain": [50, 250], "nice": false, "zero": false}, "axis": {"values": [50, 100, 150, 200, 250], "labelOverlap": false, "title": "glucose [mg/dl]"}},
    "color": {"field": "s", "type": "nominal", "scale": {"domain": ["C", "R", "G", "B", "Y"], "range": ["#000000", "#e8221e", "#26b83a", "#2020ee", "#9a9a9a"]}, "legend": null}}}
 ]}
]}
]
}
